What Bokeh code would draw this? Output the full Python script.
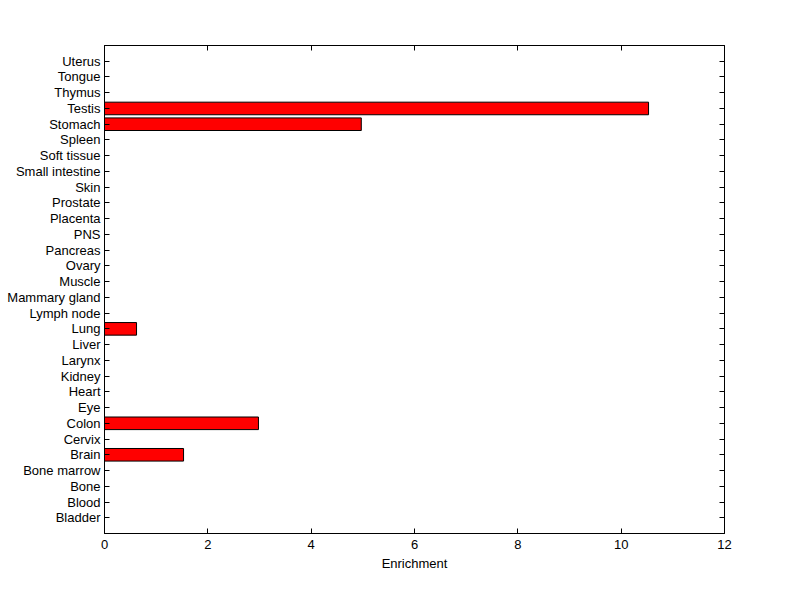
from bokeh.plotting import figure
from bokeh.models import FixedTicker, LinearAxis, Range1d
from bokeh.embed import file_html
from bokeh.resources import INLINE

tissues = ["Bladder", "Blood", "Bone", "Bone marrow", "Brain", "Cervix", "Colon",
           "Eye", "Heart", "Kidney", "Larynx", "Liver", "Lung", "Lymph node",
           "Mammary gland", "Muscle", "Ovary", "Pancreas", "PNS", "Placenta",
           "Prostate", "Skin", "Small intestine", "Soft tissue", "Spleen",
           "Stomach", "Testis", "Thymus", "Tongue", "Uterus"]
enrichment = [0, 0, 0, 0, 1.53, 0, 2.98, 0, 0, 0, 0, 0, 0.62, 0,
              0, 0, 0, 0, 0, 0, 0, 0, 0, 0, 0, 4.97, 10.53, 0, 0, 0]
x_ticks = [0, 2, 4, 6, 8, 10, 12]

ypos = list(range(1, len(tissues) + 1))
bar_y = [y for y, v in zip(ypos, enrichment) if v > 0]
bar_v = [v for v in enrichment if v > 0]

p = figure(width=800, height=599, output_backend="svg", toolbar_location=None,
           frame_width=620, frame_height=488,
           x_range=Range1d(0, 12), y_range=Range1d(0, len(tissues) + 1),
           min_border_left=104, min_border_right=76, min_border_top=45, min_border_bottom=66)

p.hbar(y=bar_y, right=bar_v, left=0, height=0.8, fill_color="#ff0000",
       line_color="black", line_width=1)

p.xgrid.visible = False
p.ygrid.visible = False
p.outline_line_color = "black"
p.outline_line_width = 1
p.background_fill_color = "white"
p.border_fill_color = "white"

font = "Liberation Sans"
labels = {y: t for y, t in zip(ypos, tissues)}

xa = p.xaxis[0]
xa.ticker = FixedTicker(ticks=x_ticks)
xa.major_tick_in = 5
xa.major_tick_out = 0
xa.minor_tick_line_color = None
xa.major_label_standoff = 6
xa.axis_label = "Enrichment"
xa.axis_label_text_font = font
xa.axis_label_text_font_size = "13px"
xa.axis_label_text_font_style = "normal"
xa.axis_label_text_color = "black"
xa.axis_label_standoff = 4
xa.major_label_text_font = font
xa.major_label_text_font_size = "13px"
xa.major_label_text_color = "black"
xa.axis_line_color = "black"
xa.major_tick_line_color = "black"

ya = p.yaxis[0]
ya.ticker = FixedTicker(ticks=ypos)
ya.major_label_overrides = labels
ya.major_tick_in = 5
ya.major_tick_out = 0
ya.minor_tick_line_color = None
ya.major_label_standoff = 4
ya.major_label_text_font = font
ya.major_label_text_font_size = "13px"
ya.major_label_text_color = "black"
ya.axis_line_color = "black"
ya.major_tick_line_color = "black"

top = LinearAxis(ticker=FixedTicker(ticks=x_ticks), major_label_text_font_size="0px",
                 major_tick_in=5, major_tick_out=0, minor_tick_line_color=None,
                 major_label_text_color=None, major_tick_line_color="black")
right = LinearAxis(ticker=FixedTicker(ticks=ypos), major_label_text_font_size="0px",
                   major_tick_in=5, major_tick_out=0, minor_tick_line_color=None,
                   major_label_text_color=None, major_tick_line_color="black")
p.add_layout(top, "above")
p.add_layout(right, "right")

open("out.html", "w").write(file_html(p, INLINE))
